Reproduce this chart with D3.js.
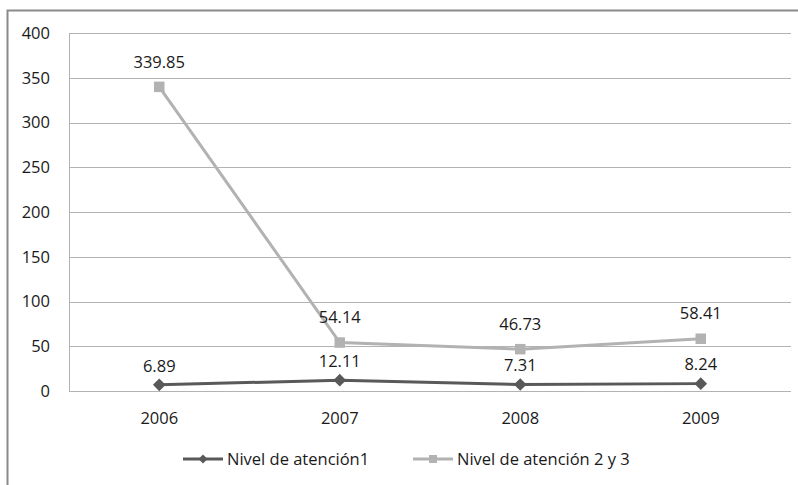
<!DOCTYPE html>
<html>
<head>
<meta charset="utf-8">
<script src="https://cdn.jsdelivr.net/npm/d3@7"></script>
<style>
  body { margin: 0; background: #fff; }
  svg text { font-family: "Open Sans", Lato, sans-serif; fill: #1a1a1a; }
</style>
</head>
<body>
<script>
// chart data
var years = ["2006", "2007", "2008", "2009"];
var nivel1 = [6.89, 12.11, 7.31, 8.24];
var nivel23 = [339.85, 54.14, 46.73, 58.41];
var seriesNames = ["Nivel de atención1", "Nivel de atención 2 y 3"];
var yTicks = [0, 50, 100, 150, 200, 250, 300, 350, 400];

var W = 798, H = 485;
var margin = {top: 33, right: 7, bottom: 94, left: 69},
    width = W - margin.left - margin.right,
    height = H - margin.top - margin.bottom;
var fs = "16.5px";

var svg = d3.select("body").append("svg")
    .attr("width", W)
    .attr("height", H);

// outer frame (only top and left edges show)
svg.append("rect")
    .attr("x", 7.5).attr("y", 10.5)
    .attr("width", W + 10).attr("height", H + 10)
    .attr("fill", "none")
    .attr("stroke", "#8a8a8a")
    .attr("stroke-width", 2);

var g = svg.append("g")
    .attr("transform", "translate(" + margin.left + "," + margin.top + ")");

var x = d3.scaleBand().domain(years).range([0, width]);
var y = d3.scaleLinear().domain([0, 400]).range([height, 0]);

// gridlines
g.selectAll(".grid")
    .data(yTicks)
    .enter().append("line")
    .attr("x1", 0).attr("x2", width)
    .attr("y1", function(d) { return Math.round(y(d)) + 0.5; })
    .attr("y2", function(d) { return Math.round(y(d)) + 0.5; })
    .attr("stroke", "#b3b3b3")
    .attr("stroke-width", 1);

// left axis line
g.append("line")
    .attr("x1", 0.5).attr("x2", 0.5)
    .attr("y1", y(400)).attr("y2", y(0))
    .attr("stroke", "#b3b3b3");

// y axis labels
g.selectAll(".ylab")
    .data(yTicks)
    .enter().append("text")
    .attr("x", -19)
    .attr("y", function(d) { return y(d); })
    .attr("dy", "0.35em")
    .attr("text-anchor", "end")
    .style("font-size", fs)
    .text(function(d) { return d; });

// x axis labels
g.selectAll(".xlab")
    .data(years)
    .enter().append("text")
    .attr("x", function(d) { return x(d) + x.bandwidth() / 2; })
    .attr("y", height + 27)
    .attr("dy", "0.35em")
    .attr("text-anchor", "middle")
    .style("font-size", fs)
    .text(function(d) { return d; });

var cx = function(d, i) { return x(years[i]) + x.bandwidth() / 2; };
var line = d3.line()
    .x(function(d, i) { return cx(d, i); })
    .y(function(d) { return y(d); });

// diamond = square turned 45 degrees
var series = [
    {values: nivel23, color: "#b2b2b2", shape: d3.symbolSquare, size: 110, rot: 0, off: 25},
    {values: nivel1, color: "#595959", shape: d3.symbolSquare, size: 80, rot: 45, off: 19}
];

series.forEach(function(s) {
    g.append("path")
        .datum(s.values)
        .attr("fill", "none")
        .attr("stroke", s.color)
        .attr("stroke-width", 3)
        .attr("d", line);

    g.selectAll(null)
        .data(s.values)
        .enter().append("path")
        .attr("transform", function(d, i) { return "translate(" + cx(d, i) + "," + y(d) + ") rotate(" + s.rot + ")"; })
        .attr("d", d3.symbol().type(s.shape).size(s.size))
        .attr("fill", s.color);

    g.selectAll(null)
        .data(s.values)
        .enter().append("text")
        .attr("x", function(d, i) { return cx(d, i); })
        .attr("y", function(d) { return y(d) - s.off; })
        .attr("dy", "0.35em")
        .attr("text-anchor", "middle")
        .style("font-size", fs)
        .text(function(d) { return d.toFixed(2); });
});

// legend
var legend = [
    {name: seriesNames[0], color: "#595959", shape: d3.symbolSquare, size: 40, rot: 45, x: 183},
    {name: seriesNames[1], color: "#b2b2b2", shape: d3.symbolSquare, size: 64, rot: 0, x: 413}
];
legend.forEach(function(l) {
    var lg = svg.append("g").attr("transform", "translate(" + l.x + ",459)");
    lg.append("line")
        .attr("x1", 0).attr("x2", 40)
        .attr("stroke", l.color)
        .attr("stroke-width", 3);
    lg.append("path")
        .attr("transform", "translate(20,0) rotate(" + l.rot + ")")
        .attr("d", d3.symbol().type(l.shape).size(l.size))
        .attr("fill", l.color);
    lg.append("text")
        .attr("x", 44)
        .attr("dy", "0.35em")
        .style("font-size", fs)
        .text(l.name);
});
</script>
</body>
</html>
